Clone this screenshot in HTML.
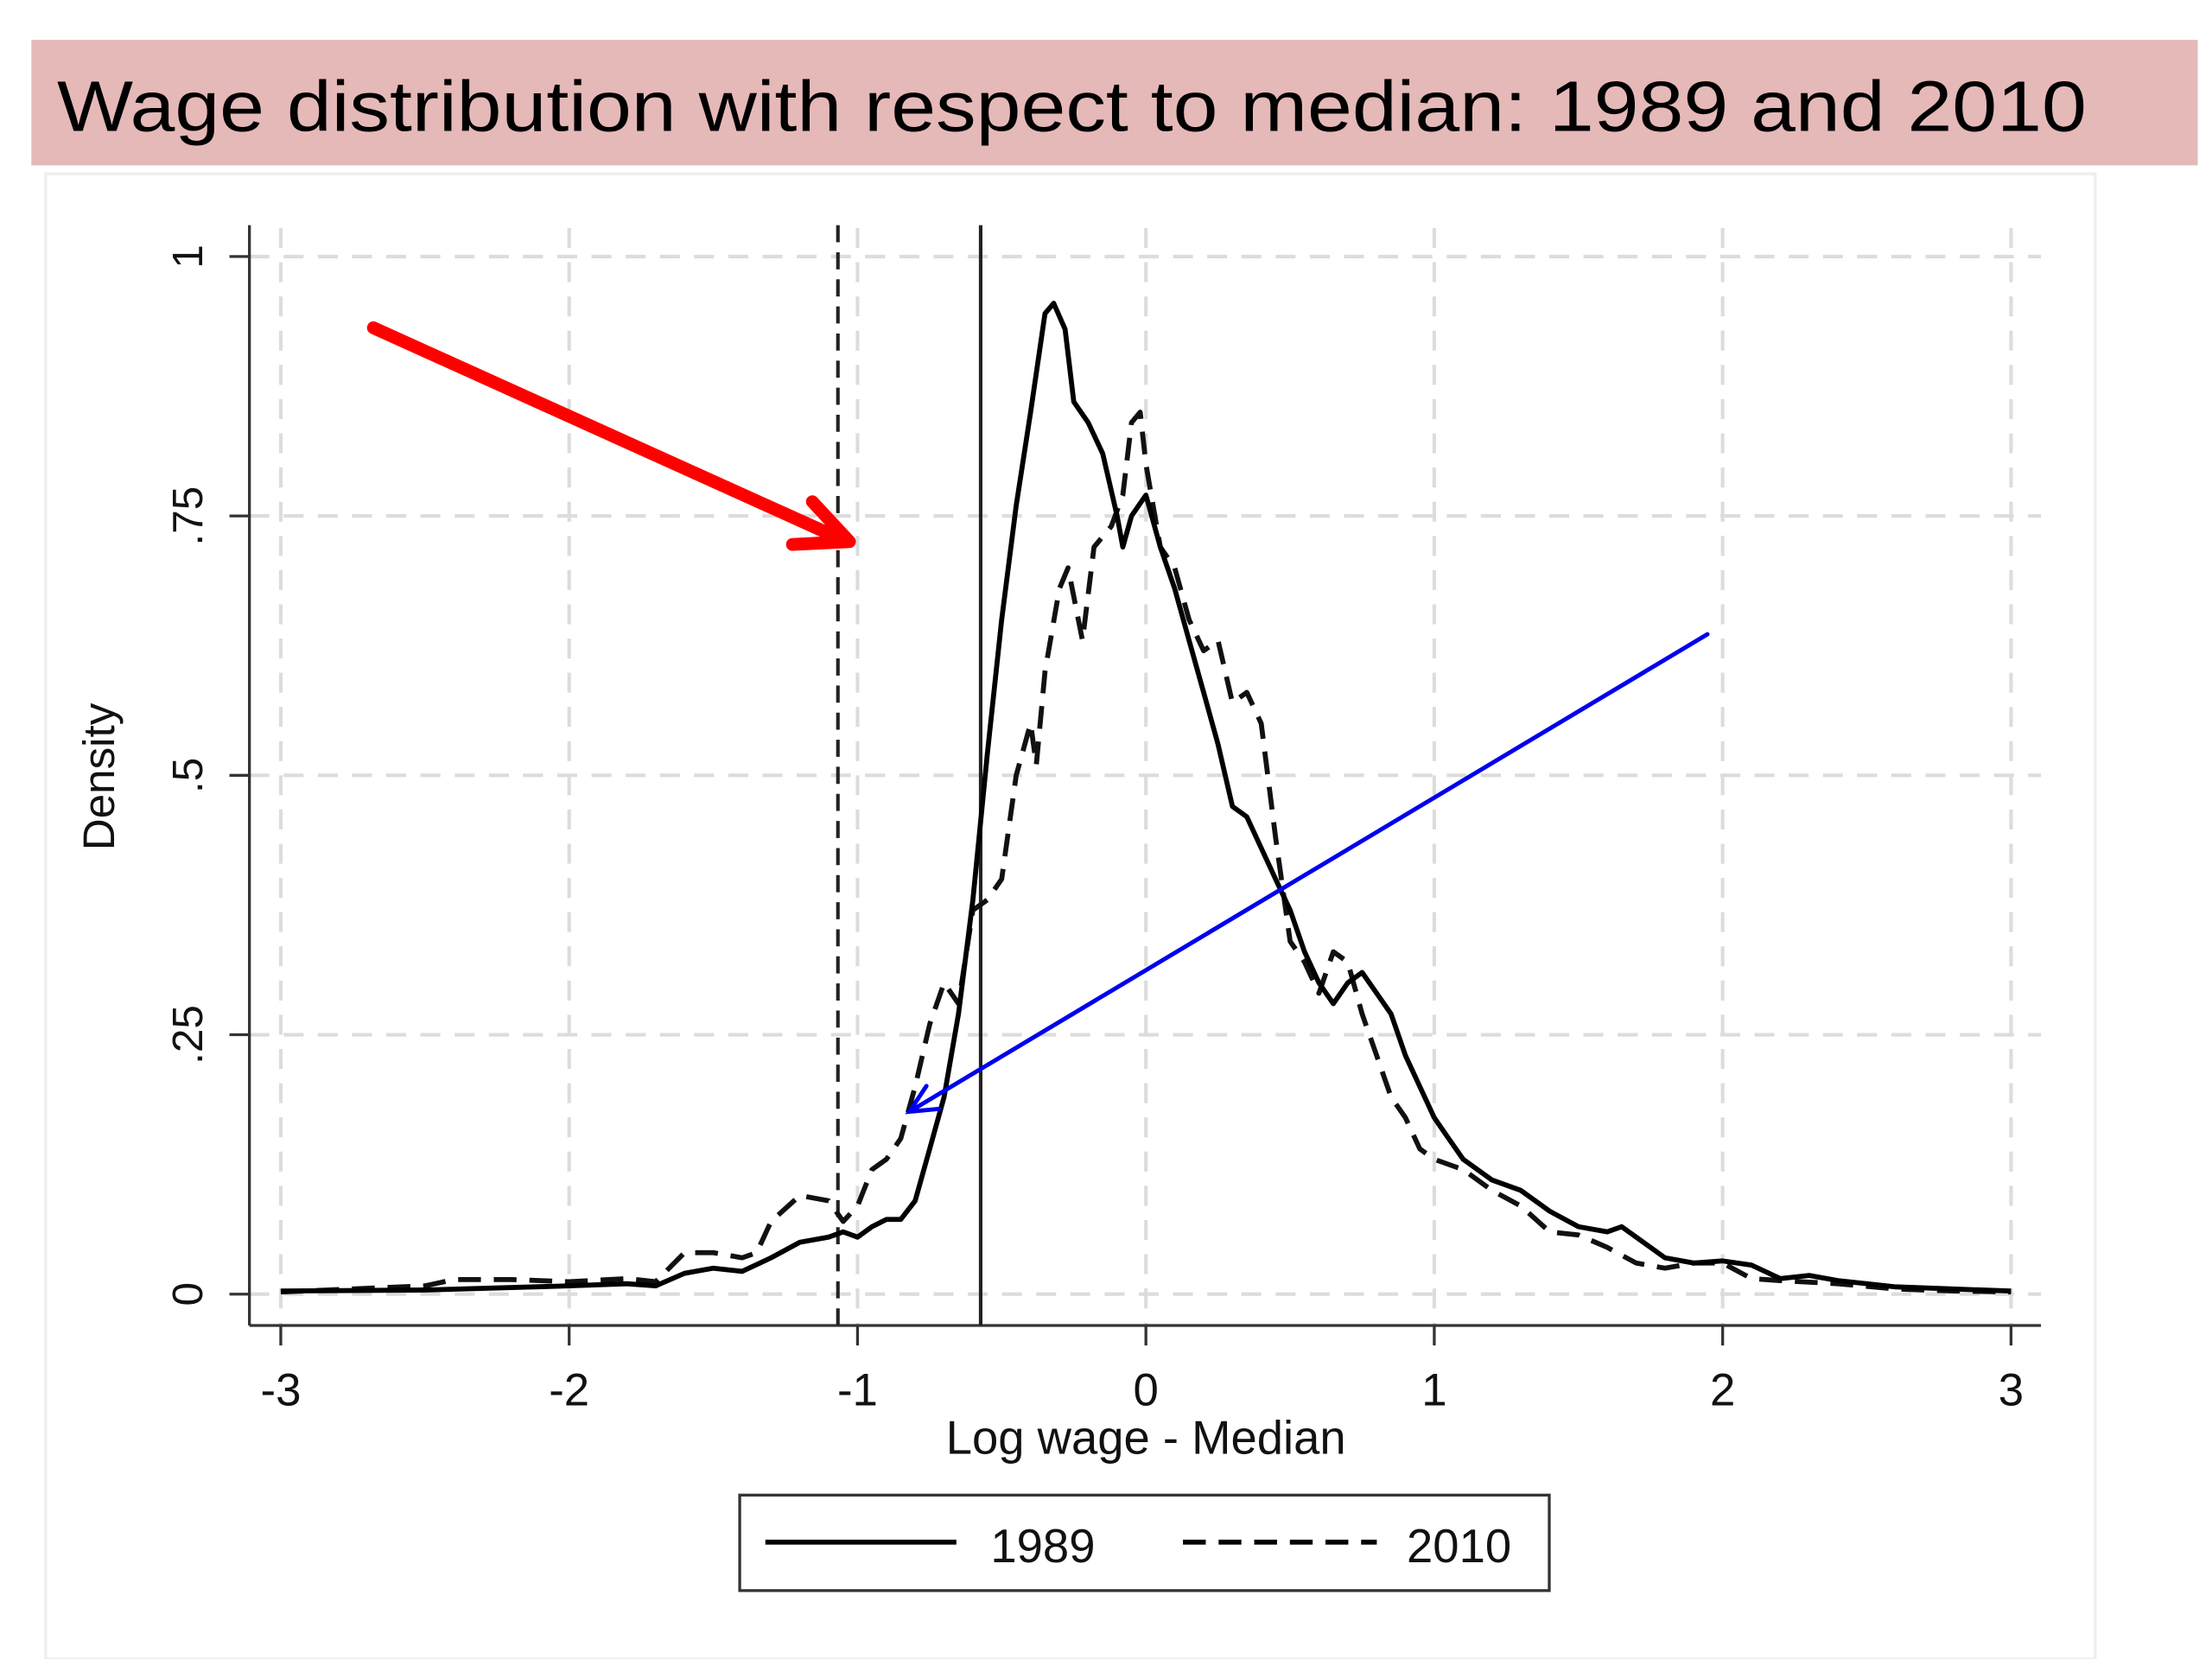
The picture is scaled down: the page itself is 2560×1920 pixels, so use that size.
<!DOCTYPE html>
<html><head><meta charset="utf-8"><style>
html,body{margin:0;padding:0;background:#fff;}
svg{display:block;}
text{font-family:"Liberation Sans",sans-serif;}
</style></head><body>
<svg id="chart" width="2560" height="1920" viewBox="0 0 1552 1164" preserveAspectRatio="none" xmlns="http://www.w3.org/2000/svg">
<rect x="22" y="28" width="1520" height="88" fill="#e5b9b8"/>
<text x="40" y="92" font-size="50" fill="#000" textLength="1424" lengthAdjust="spacingAndGlyphs">Wage distribution with respect to median: 1989 and 2010</text>
<rect x="32" y="122" width="1438" height="1042" fill="#fff" stroke="#eeeeee" stroke-width="2"/>
<g id="grid"></g>
<g id="axes"></g>
<g id="series"></g>
<text x="804" y="1020" font-size="33" text-anchor="middle" fill="#111">Log wage - Median</text>
<text transform="translate(80,545) rotate(-90)" font-size="31" text-anchor="middle" fill="#111">Density</text>
<g>
<rect x="519" y="1049" width="568" height="67" fill="#fff" stroke="#333" stroke-width="2"/>
<line x1="537" y1="1082" x2="671" y2="1082" stroke="#000" stroke-width="3.5"/>
<text x="695" y="1096" font-size="33" fill="#111">1989</text>
<line x1="830" y1="1082" x2="966" y2="1082" stroke="#000" stroke-width="3.5" stroke-dasharray="16,9"/>
<text x="987" y="1096" font-size="33" fill="#111">2010</text>
</g>
<g stroke="#ff0000" stroke-width="9" fill="none" stroke-linecap="round" stroke-linejoin="round">
<line x1="262" y1="230" x2="594" y2="380"/>
<polyline points="570,352 596,380 556,382"/>
</g>
<g stroke="#0000ee" stroke-width="3" fill="none" stroke-linecap="round">
<line x1="1198" y1="445" x2="638" y2="780"/>
<polyline points="650,762 638,780 659,778"/>
</g>
</svg>
<script>
const xTicks = [-3, -2, -1, 0, 1, 2, 3];
const yTicks = [0, 0.25, 0.5, 0.75, 1];
const yTickLabels = ["0", ".25", ".5", ".75", "1"];
const refLines = [-1.068, -0.573];
const xs1989 = [-3,-2.5,-2,-1.8,-1.7,-1.6,-1.5,-1.4,-1.3,-1.2,-1.1,-1.05,-1.0,-0.95,-0.9,-0.85,-0.8,-0.75,-0.7,-0.65,-0.6,-0.55,-0.5,-0.45,-0.4,-0.35,-0.32,-0.28,-0.25,-0.2,-0.15,-0.1,-0.08,-0.05,0,0.05,0.1,0.15,0.2,0.25,0.3,0.35,0.4,0.45,0.5,0.55,0.6,0.65,0.7,0.75,0.8,0.85,0.9,0.95,1.0,1.05,1.1,1.2,1.3,1.4,1.5,1.6,1.65,1.7,1.8,1.9,2.0,2.1,2.2,2.3,2.4,2.6,2.8,3.0];
const ys1989 = [0.003,0.004,0.008,0.01,0.008,0.02,0.025,0.022,0.035,0.05,0.055,0.06,0.055,0.065,0.072,0.072,0.09,0.14,0.19,0.27,0.38,0.52,0.65,0.76,0.85,0.945,0.955,0.93,0.86,0.84,0.81,0.75,0.72,0.75,0.77,0.72,0.68,0.63,0.58,0.53,0.47,0.46,0.43,0.4,0.37,0.33,0.3,0.28,0.3,0.31,0.29,0.27,0.23,0.2,0.17,0.15,0.13,0.11,0.1,0.08,0.065,0.06,0.065,0.055,0.035,0.03,0.032,0.028,0.015,0.018,0.013,0.007,0.005,0.003];
const xs2010 = [-3,-2.5,-2.4,-2.2,-2,-1.8,-1.7,-1.6,-1.5,-1.4,-1.35,-1.3,-1.2,-1.1,-1.05,-1.0,-0.95,-0.9,-0.85,-0.8,-0.75,-0.7,-0.65,-0.6,-0.55,-0.5,-0.45,-0.4,-0.38,-0.35,-0.3,-0.27,-0.22,-0.18,-0.12,-0.08,-0.05,-0.02,0,0.05,0.1,0.15,0.2,0.25,0.3,0.35,0.4,0.45,0.5,0.55,0.6,0.65,0.7,0.75,0.8,0.85,0.9,0.95,1.0,1.1,1.2,1.3,1.4,1.5,1.6,1.7,1.8,1.9,2.0,2.1,2.2,2.4,2.6,2.8,3.0];
const ys2010 = [0.002,0.008,0.014,0.014,0.012,0.015,0.012,0.04,0.04,0.035,0.04,0.07,0.095,0.09,0.07,0.085,0.12,0.13,0.15,0.2,0.26,0.3,0.28,0.37,0.38,0.4,0.5,0.55,0.51,0.6,0.68,0.7,0.63,0.72,0.74,0.77,0.84,0.85,0.8,0.72,0.7,0.65,0.62,0.63,0.57,0.58,0.55,0.44,0.34,0.32,0.29,0.33,0.32,0.27,0.23,0.19,0.17,0.14,0.13,0.12,0.1,0.085,0.06,0.057,0.045,0.03,0.025,0.03,0.03,0.015,0.013,0.01,0.005,0.003,0.002];

const NS = "http://www.w3.org/2000/svg";
const X0 = 804, XU = 202.33, Y0 = 908, YU = 728;
function sx(v){ return X0 + v * XU; }
function sy(v){ return Y0 - v * YU; }
function mk(tag, attrs, parent){
  const e = document.createElementNS(NS, tag);
  for (const k in attrs) e.setAttribute(k, attrs[k]);
  parent.appendChild(e);
  return e;
}
const grid = document.getElementById('grid');
const axes = document.getElementById('axes');
const series = document.getElementById('series');

xTicks.forEach(function(t){
  const g = mk('line', {x1:sx(t), x2:sx(t), y1:160, y2:930, stroke:'#dcdcdc', 'stroke-width':2.5, 'stroke-dasharray':'14,10'}, grid);
  
  
  const tk = mk('line', {x1:sx(t), x2:sx(t), y1:930, y2:944, stroke:'#333', 'stroke-width':2}, axes);
  
  
  const lb = mk('text', {x:sx(t), y:986, 'font-size':32, 'text-anchor':'middle', fill:'#111'}, axes);
  lb.textContent = String(t);
  
  
});
yTicks.forEach(function(t, i){
  const g = mk('line', {x1:175, x2:1432, y1:sy(t), y2:sy(t), stroke:'#dcdcdc', 'stroke-width':2.5, 'stroke-dasharray':'14,10'}, grid);
  
  
  const tk = mk('line', {x1:161, x2:175, y1:sy(t), y2:sy(t), stroke:'#333', 'stroke-width':2}, axes);
  
  
  const lb = mk('text', {transform:'translate(142,' + sy(t) + ') rotate(-90)', 'font-size':30, 'text-anchor':'middle', fill:'#111'}, axes);
  lb.textContent = yTickLabels[i];
  
  
});
const xa = mk('line', {x1:175, x2:1432, y1:930, y2:930, stroke:'#333', 'stroke-width':2}, axes);


const ya = mk('line', {x1:175, x2:175, y1:158, y2:930, stroke:'#333', 'stroke-width':2}, axes);



refLines.forEach(function(v, i){
  const l = mk('line', {x1:sx(v), x2:sx(v), y1:158, y2:930, stroke:'#222', 'stroke-width':2.5}, series);
  if (i === 0) l.setAttribute('stroke-dasharray', '12,7');
  
  
});

function path(xs, ys){
  return xs.map(function(x, i){ return (i ? 'L' : 'M') + sx(x).toFixed(1) + ',' + sy(ys[i]).toFixed(1); }).join(' ');
}
const p2010 = mk('path', {d:path(xs2010, ys2010), fill:'none', stroke:'#111', 'stroke-width':3.5, 'stroke-dasharray':'16,9', 'stroke-linejoin':'round'}, series);


const p1989 = mk('path', {d:path(xs1989, ys1989), fill:'none', stroke:'#000', 'stroke-width':3.5, 'stroke-linejoin':'round'}, series);


</script>
</body></html>
